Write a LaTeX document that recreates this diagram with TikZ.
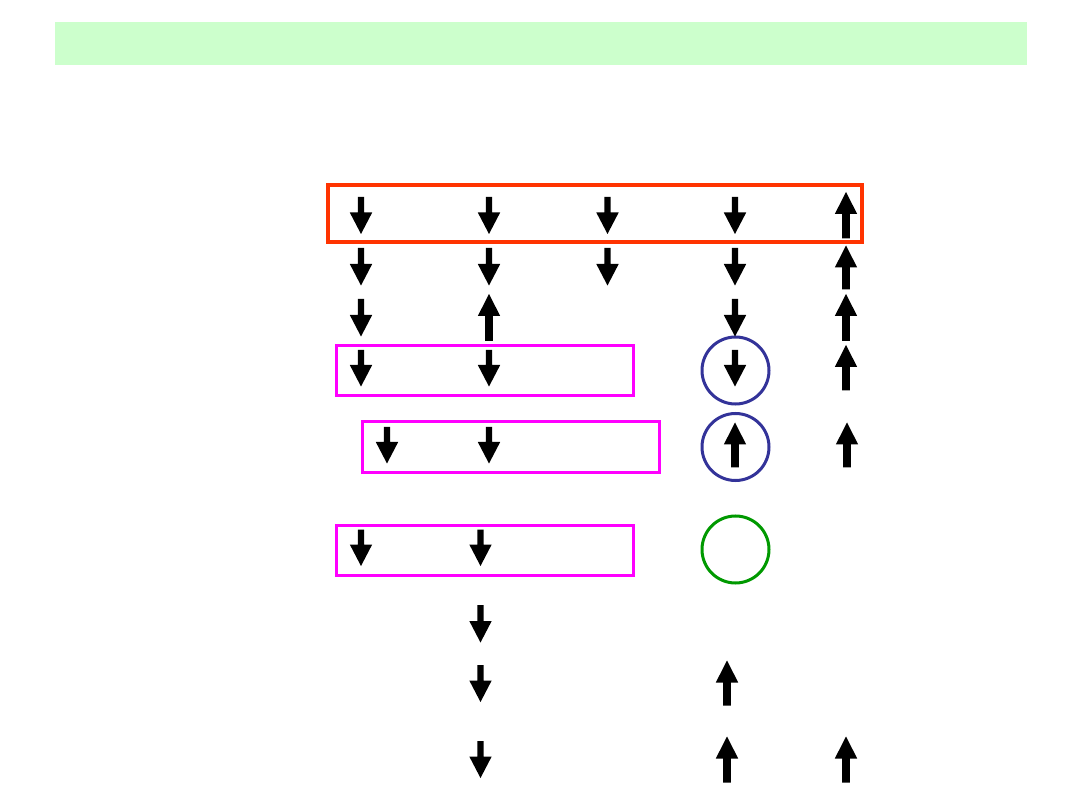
\documentclass[tikz,border=0pt]{standalone}
\definecolor{barGreen}{HTML}{CCFFCC}
\definecolor{redBox}{HTML}{FF3300}
\definecolor{pinkBox}{HTML}{FF00FF}
\definecolor{blueRing}{HTML}{333399}
\definecolor{greenRing}{HTML}{009900}
\newcommand\spinDown[3]{\fill[spin] (#1-3.2,#2) -- (#1+3.2,#2) -- (#1+3.2,#3-21.5) -- (#1+11.2,#3-21.5) -- (#1,#3) -- (#1-11.2,#3-21.5) -- (#1-3.2,#3-21.5) -- cycle;}
\newcommand\spinUp[3]{\fill[spin] (#1-3.9,#3) -- (#1+3.9,#3) -- (#1+3.9,#2+22) -- (#1+11.2,#2+22) -- (#1,#2) -- (#1-11.2,#2+22) -- (#1-3.9,#2+22) -- cycle;}
\begin{document}
\begin{tikzpicture}[x=1pt,y=-1pt,
  spin/.style={fill=black},
  groupbox/.style={draw=pinkBox,line width=3pt},
  ring/.style={line width=3pt}]
\useasboundingbox (0,0) rectangle (1080,810);
\fill[barGreen] (55,22) rectangle (1027,65);
% boxes and rings
\draw[draw=redBox,line width=4pt] (328,185) rectangle (862,242);
\draw[groupbox] (336,346) rectangle (633,396);
\draw[groupbox] (362,422) rectangle (659,473);
\draw[groupbox] (336,525) rectangle (633,575);
\draw[ring,draw=blueRing] (735.5,370.5) circle (33.5);
\draw[ring,draw=blueRing] (735.5,447) circle (33.5);
\draw[ring,draw=greenRing] (735.5,549.5) circle (33.5);
% row 1
\spinDown{361}{197}{234}
\spinDown{489}{197}{234}
\spinDown{607.5}{197}{234}
\spinDown{735}{197}{234}
\spinUp{846}{192}{238.5}
% row 2
\spinDown{361}{248}{285.5}
\spinDown{489}{248}{285.5}
\spinDown{607.5}{248}{285.5}
\spinDown{735}{248}{285.5}
\spinUp{846}{245.5}{289.5}
% row 3
\spinDown{361}{299}{336.5}
\spinUp{489}{294}{341}
\spinDown{735}{299}{336.5}
\spinUp{846}{294}{341}
% row 4
\spinDown{361}{350}{386.5}
\spinDown{489}{350}{386.5}
\spinDown{735}{350}{386.5}
\spinUp{846}{345}{390.5}
% row 5
\spinDown{387}{427}{463.5}
\spinDown{489}{427}{463.5}
\spinUp{735}{422.5}{467.5}
\spinUp{847}{422.5}{467.5}
% row 6
\spinDown{361}{529.5}{566}
\spinDown{480.5}{529.5}{566}
% row 7
\spinDown{480.5}{605}{642.5}
% row 8
\spinDown{480.5}{665}{702}
\spinUp{727}{660.5}{705.5}
% row 9
\spinDown{480.5}{741}{778}
\spinUp{727}{736.5}{782.5}
\spinUp{846}{736.5}{782.5}
\end{tikzpicture}
\end{document}
